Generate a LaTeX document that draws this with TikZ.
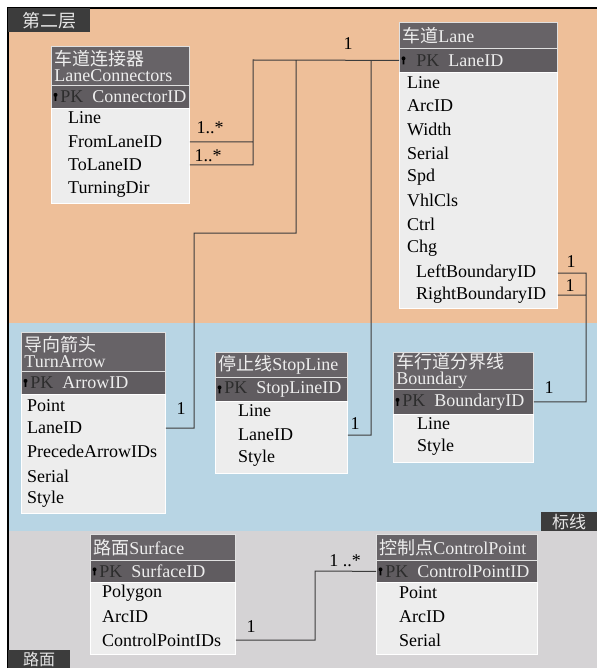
\documentclass[tikz,border=0pt]{standalone}
\usepackage{fontspec}
\setmainfont{Liberation Serif}
\newfontfamily\cjk{Noto Sans CJK SC}

\definecolor{laneorange}{RGB}{238,191,153}
\definecolor{markblue}{RGB}{184,213,228}
\definecolor{roadgray}{RGB}{213,211,213}
\definecolor{headgray}{RGB}{103,99,103}
\definecolor{pkgray}{RGB}{96,92,96}
\definecolor{bodygray}{RGB}{237,237,237}
\definecolor{tabgray}{RGB}{60,60,60}
\definecolor{pkdark}{RGB}{45,45,45}
\definecolor{wirecolor}{RGB}{60,60,60}

\newcommand\pk[1]{\mbox{\textcolor{pkdark}{PK}\hspace{9pt}#1}}

\begin{document}
\begin{tikzpicture}[x=1pt,y=-1pt,font=\fontsize{18}{16}\selectfont,
    head/.style={anchor=north west,fill=headgray,draw=white!88!black,line width=0.8pt,text=white!93!black,align=left,inner xsep=3pt,inner ysep=1pt},
    pkrow/.style={anchor=north west,fill=pkgray,draw=white!88!black,line width=0.8pt,text=white!93!black,align=left,inner xsep=9pt,inner ysep=0pt},
    body/.style={anchor=north west,fill=bodygray,draw=white,line width=0.8pt,inner sep=0pt},
    field/.style={anchor=west,inner sep=0pt},
    mult/.style={inner sep=0pt},
    layer/.style={anchor=north west,fill=tabgray,text=white!90!black,inner sep=0pt},
    wire/.style={draw=wirecolor,line width=1pt}]
                \useasboundingbox (0, 0) rectangle (597, 668);
                % the three layers
                \fill[laneorange] (8, 8) rectangle (597, 323);
                \fill[markblue] (8, 323) rectangle (597, 531);
                \fill[roadgray] (8, 531) rectangle (597, 668);
                \draw[line width=1.2pt] (8, 668) -- (8, 8) -- (597, 8);
                \node[layer,minimum width=82pt,minimum height=24pt](layer2)at(8, 8){\cjk 第二层};
                \node[layer,minimum width=56pt,minimum height=19pt,font=\fontsize{17}{17}\selectfont](markings)at(541, 512){\cjk 标线};
                \node[layer,minimum width=62pt,minimum height=18pt,font=\fontsize{16}{16}\selectfont](surfaces)at(8, 650){\cjk 路面};

                % LaneConnectors
                \node[head,text width=132pt,minimum height=39pt](connhead)at(51, 46){{\cjk 车道连接器}\\LaneConnectors};
                \node[pkrow,text width=120pt,minimum height=23pt](connpk)at(51, 85){\pk{ConnectorID}};
                \node[body,minimum width=138pt,minimum height=95pt](connbody)at(51, 108){};
                \node[field](connline)at(68, 118){Line};
                \node[field](connfrom)at(68, 142){FromLaneID};
                \node[field](connto)at(68, 165){ToLaneID};
                \node[field](conndir)at(68, 189){TurningDir};

                % Lane
                \node[head,text width=152pt,minimum height=26pt](lanehead)at(399, 22){{\cjk 车道}Lane};
                \node[pkrow,text width=140pt,minimum height=24pt](lanepk)at(399, 48){\hspace*{8pt}\pk{LaneID}};
                \node[body,minimum width=158pt,minimum height=236pt](lanebody)at(399, 72){};
                \node[field](laneline)at(407, 83){Line};
                \node[field](lanearc)at(407, 106){ArcID};
                \node[field](lanewidth)at(407, 129){Width};
                \node[field](laneserial)at(407, 153){Serial};
                \node[field](lanespd)at(407, 177){Spd};
                \node[field](lanevhl)at(407, 200){VhlCls};
                \node[field](lanectrl)at(407, 224){Ctrl};
                \node[field](lanechg)at(407, 248){Chg};
                \node[field](laneleft)at(416, 273){LeftBoundaryID};
                \node[field](laneright)at(416, 295){RightBoundaryID};

                % TurnArrow
                \node[head,text width=138pt,minimum height=39pt](turnhead)at(21, 332){{\cjk 导向箭头}\\TurnArrow};
                \node[pkrow,text width=126pt,minimum height=23pt](turnpk)at(21, 371){\pk{ArrowID}};
                \node[body,minimum width=144pt,minimum height=119pt](turnbody)at(21, 394){};
                \node[field](turnpoint)at(27, 406){Point};
                \node[field](turnlane)at(27, 428){LaneID};
                \node[field](turnprec)at(27, 451){PrecedeArrowIDs};
                \node[field](turnserial)at(27, 476){Serial};
                \node[field](turnstyle)at(27, 499){Style};

                % StopLine
                \node[head,text width=126pt,minimum height=25pt](stophead)at(215, 352){{\cjk 停止线}StopLine};
                \node[pkrow,text width=114pt,minimum height=24pt](stoppk)at(215, 377){\pk{StopLineID}};
                \node[body,minimum width=132pt,minimum height=72pt](stopbody)at(215, 401){};
                \node[field](stopline)at(238, 411){Line};
                \node[field](stoplane)at(238, 435){LaneID};
                \node[field](stopstyle)at(238, 458){Style};

                % Boundary
                \node[head,text width=134pt,minimum height=37pt](bndhead)at(393, 352){{\cjk 车行道分界线}\\Boundary};
                \node[pkrow,text width=122pt,minimum height=25pt](bndpk)at(393, 389){\pk{BoundaryID}};
                \node[body,minimum width=140pt,minimum height=48pt](bndbody)at(393, 414){};
                \node[field](bndline)at(417, 424){Line};
                \node[field](bndstyle)at(417, 447){Style};

                % Surface
                \node[head,text width=139pt,minimum height=26pt](surfhead)at(90, 534){{\cjk 路面}Surface};
                \node[pkrow,text width=127pt,minimum height=22pt](surfpk)at(90, 560){\pk{SurfaceID}};
                \node[body,minimum width=145pt,minimum height=72pt](surfbody)at(90, 582){};
                \node[field](surfpoly)at(102, 593){Polygon};
                \node[field](surfarc)at(102, 617){ArcID};
                \node[field](surfcp)at(102, 640){ControlPointIDs};

                % ControlPoint
                \node[head,text width=155pt,minimum height=26pt](cphead)at(376, 534){{\cjk 控制点}ControlPoint};
                \node[pkrow,text width=143pt,minimum height=22pt](cppk)at(376, 560){\pk{ControlPointID}};
                \node[body,minimum width=161pt,minimum height=72pt](cpbody)at(376, 582){};
                \node[field](cppoint)at(399, 593){Point};
                \node[field](cparc)at(399, 617){ArcID};
                \node[field](cpserial)at(399, 640){Serial};

                % key glyphs
                \foreach \k in {connpk,lanepk,turnpk,stoppk,bndpk,surfpk,cppk}
                    \fill[black] ([xshift=4.5pt,yshift=2pt]\k.west) circle (2pt)
                        ([xshift=3.7pt,yshift=2pt]\k.west) rectangle ([xshift=5.3pt,yshift=-4pt]\k.west);

                % relations
                \coordinate (conntop) at (253, 60);
                \coordinate (turnbend) at (194, 233);
                \coordinate (turntop) at (296, 60);
                \coordinate (stoptop) at (371, 60);
                \coordinate (bndbend) at (586, 273);
                \coordinate (cpbend) at (315, 571);
                \path[wire] (connbody.east |- connfrom) -| (conntop) -- (lanepk.west)
                (connbody.east |- connto) -| (conntop)
                (turnbody.east |- turnlane) -| (turnbend) -| (turntop)
                (stopbody.east |- stoplane) -| (stoptop)
                (lanebody.east |- laneleft) -| (bndbend) |- (bndpk.east)
                (lanebody.east |- laneright) -| (bndbend)
                (surfbody.east |- surfcp) -| (cpbend) -- (cppk.west);
                \node[mult](lanemult)at(348, 44){1};
                \node[mult](frommult)at(210, 128){1..*};
                \node[mult](tomult)at(208, 156){1..*};
                \node[mult](turnmult)at(181, 409){1};
                \node[mult](stopmult)at(355, 424){1};
                \node[mult](leftmult)at(571, 262){1};
                \node[mult](rightmult)at(570, 286){1};
                \node[mult](bndmult)at(549, 388){1};
                \node[mult](surfmult)at(251, 627){1};
                \node[mult](cpmult)at(345, 561){1 ..*};
            \end{tikzpicture}
\end{document}
